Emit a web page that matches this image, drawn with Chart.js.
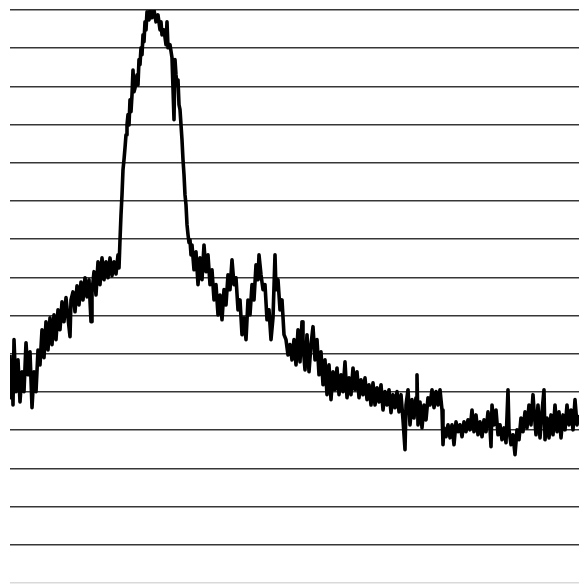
<!DOCTYPE html>
<html>
<head>
<meta charset="utf-8">
<script src="https://cdn.jsdelivr.net/npm/chart.js@4/dist/chart.umd.min.js"></script>
<style>
html,body{margin:0;padding:0;background:#fff;}
#wrap{position:relative;width:579px;height:584px;}
</style>
</head>
<body>
<div id="wrap"><canvas id="c"></canvas></div>
<script>
// x positions (arbitrary axis units, 0..569)
const xPositions = [
0,1,2,3,4,6,8,10,12,14,16,18,20,22,24,26,28,30,32,34,36,38,40,42,44,46,48,50,52,54,56,58,60,61,63,65,67,69,71,73,75,77,79,81,82,84,86,88,90,92,94,96,98,100,102,104,106,108,109,
110,111,112,113,114,115,116,117,118,119,120,121,122,123,124,125,127,128,129,130,131,132,133,134,135,136,137,139,140,142,144,146,148,150,151,152,154,156,157,158,160,162,164,165,166,167,168,169,170,171,172,173,174,175,176,177,178,179,180,181,
182,184,186,188,190,192,194,196,198,200,202,204,206,208,210,212,214,216,218,220,222,224,226,228,230,232,234,236,238,240,242,244,246,248,249,251,253,255,257,259,261,263,265,266,268,270,272,274,276,278,280,282,284,286,288,
290,292,293,295,297,299,301,303,305,307,309,311,313,315,317,319,321,323,325,327,329,331,333,335,337,339,341,343,345,347,349,351,353,355,357,359,361,363,365,367,369,371,373,375,377,379,381,383,385,387,389,391,393,395,396,398,400,402,404,406,407,408,410,412,414,416,418,420,422,424,426,428,430,432,433,434,436,438,440,
442,444,446,448,450,452,454,456,458,460,462,464,466,468,470,472,474,476,478,480,481,482,484,486,488,490,492,494,496,498,499,501,503,505,507,509,511,513,515,517,519,521,523,524,526,528,530,532,534,535,537,539,541,543,545,547,549,551,553,555,557,559,561,563,565,567,569
];
// signal values (gridline units)
const signalValues = [
4.97,3.85,4.79,3.66,5.37,4.01,4.84,3.74,4.53,4.01,5.29,4.45,5.05,3.59,4.53,4.01,5.10,4.71,5.63,4.90,5.84,5.10,5.94,5.24,6.02,5.37,6.15,5.63,6.36,5.84,6.47,5.94,5.45,6.41,6.62,6.10,6.78,6.28,6.88,6.41,6.99,6.49,6.94,5.84,6.62,7.15,6.54,7.41,6.81,7.51,6.94,7.41,6.99,7.51,7.04,7.41,7.09,7.59,7.25,
7.98,8.64,9.16,9.82,10.08,10.39,10.73,10.99,11.26,10.99,11.65,11.34,11.78,12.43,11.86,11.96,12.30,12.04,12.70,12.57,13.01,12.83,13.35,13.17,13.69,13.48,13.95,13.74,14.0,13.80,14.0,13.69,13.87,13.48,13.69,13.35,13.48,13.09,13.69,13.01,13.09,12.75,11.13,12.70,12.30,12.04,12.17,11.52,11.39,10.99,10.60,10.08,9.69,9.16,8.90,8.38,8.12,7.91,7.98,7.59,
7.85,7.20,7.67,6.81,7.51,6.94,7.85,7.15,7.59,6.81,7.20,6.41,6.81,6.02,6.54,5.89,6.68,6.28,7.07,6.68,7.46,6.81,6.99,6.15,6.41,5.50,5.94,5.37,6.41,6.02,6.81,6.41,7.33,6.94,7.59,7.07,6.68,6.81,5.89,6.15,5.37,5.94,7.59,6.68,6.94,6.15,6.41,5.50,5.37,4.97,5.24,4.84,5.37,4.71,5.63,
4.79,5.84,5.24,4.58,5.50,4.53,5.24,5.71,4.84,5.37,4.45,5.05,4.19,4.84,3.93,4.71,3.80,4.53,4.06,4.63,3.93,4.45,4.01,4.79,3.85,4.37,3.93,4.63,4.06,4.53,3.85,4.32,3.93,4.37,3.80,4.19,3.66,4.24,3.66,4.11,3.74,4.19,3.53,4.01,3.66,4.06,3.46,3.93,3.59,4.01,3.48,3.93,3.27,2.49,3.66,4.06,3.14,3.80,3.32,3.85,4.45,3.14,3.74,3.06,3.66,3.27,3.85,3.66,4.06,3.59,4.01,3.66,4.06,3.53,2.62,3.06,2.83,3.14,2.80,
3.14,2.62,3.22,2.96,3.14,2.83,3.22,2.96,3.27,3.01,3.53,2.96,3.40,2.88,3.22,2.83,3.27,2.96,3.48,3.06,2.57,3.66,3.14,3.53,2.88,3.14,2.75,3.06,2.67,4.06,3.01,2.62,2.88,2.36,3.01,2.75,3.32,2.96,3.48,3.06,3.66,3.14,3.93,3.53,2.88,3.66,2.80,3.48,4.06,2.75,3.32,2.80,3.40,2.88,3.66,2.96,3.48,2.80,3.40,3.01,3.66,3.14,3.53,3.01,3.80,3.14,3.40
];
const yMin = -1, yMax = 14;

const points = xPositions.map((x, i) => ({x: x, y: signalValues[i]}));

new Chart(document.getElementById('c'), {
  type: 'line',
  data: {
    datasets: [{
      data: points,
      borderColor: '#000',
      borderWidth: 3.6,
      borderJoinStyle: 'round',
      pointRadius: 0,
      tension: 0,
      fill: false
    }]
  },
  options: {
    responsive: true,
    maintainAspectRatio: false,
    animation: false,
    events: [],
    layout: {padding: {left: 10, right: 0, top: 10, bottom: 1}},
    plugins: {legend: {display: false}, tooltip: {enabled: false}},
    scales: {
      x: {
        type: 'linear', min: 0, max: 569, display: false
      },
      y: {
        min: yMin, max: yMax,
        ticks: {display: false, stepSize: 1},
        border: {display: false},
        grid: {
          drawTicks: false,
          lineWidth: 1.5,
          color: (ctx) => ctx.tick && ctx.tick.value === yMin ? 'rgba(0,0,0,0.15)' : 'rgba(20,20,20,0.85)'
        }
      }
    }
  }
});
</script>
</body>
</html>
